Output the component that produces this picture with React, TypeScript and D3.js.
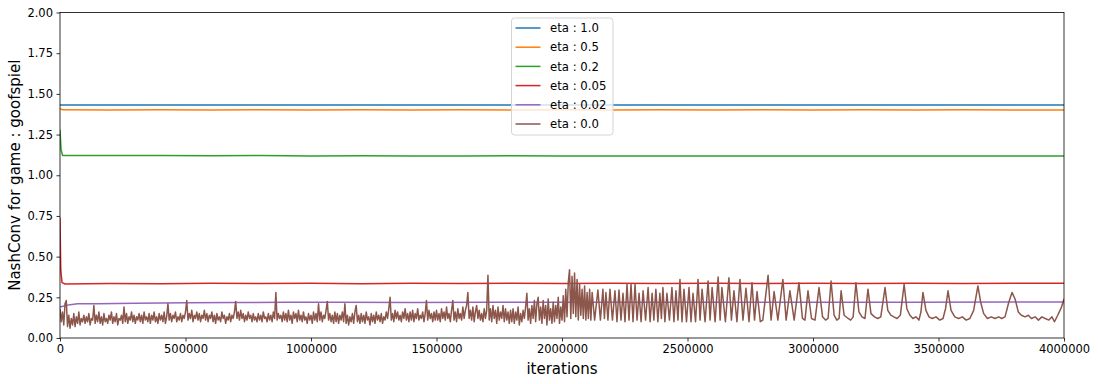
import React, { useEffect, useRef } from "react";
import * as d3 from "d3";

// legend labels / series names
const seriesNames = ["eta : 1.0", "eta : 0.5", "eta : 0.2", "eta : 0.05", "eta : 0.02", "eta : 0.0"];
const seriesColors = ["#1f77b4", "#ff7f0e", "#2ca02c", "#d62728", "#9467bd", "#8c564b"];

const xTicks = [0, 500000, 1000000, 1500000, 2000000, 2500000, 3000000, 3500000, 4000000];
const yTicks = [0, 0.25, 0.5, 0.75, 1.0, 1.25, 1.5, 1.75, 2.0];

// [iterations in thousands, NashConv]
const eta10: [number, number][] = [
  [0, 1.432], [500, 1.431], [1000, 1.431], [1500, 1.431], [2000, 1.431],
  [2500, 1.431], [3000, 1.431], [3500, 1.431], [4000, 1.431],
];

const eta05: [number, number][] = [
  [0, 1.41], [10, 1.402], [200, 1.401], [400, 1.402], [600, 1.401], [800, 1.402],
  [1000, 1.401], [1200, 1.402], [1400, 1.401], [1600, 1.402], [1800, 1.401],
  [2000, 1.402], [2200, 1.401], [2400, 1.402], [2600, 1.401], [2800, 1.402],
  [3000, 1.401], [3200, 1.402], [3400, 1.401], [3600, 1.402], [3800, 1.401], [4000, 1.401],
];

const eta02: [number, number][] = [
  [0, 1.28], [4, 1.16], [10, 1.122], [200, 1.121], [400, 1.122], [600, 1.120],
  [800, 1.121], [1000, 1.119], [1200, 1.120], [1400, 1.119], [1600, 1.119],
  [1800, 1.120], [2000, 1.119], [2400, 1.119], [2800, 1.118], [3200, 1.119],
  [3600, 1.118], [4000, 1.118],
];

const eta005: [number, number][] = [
  [0, 0.74], [3, 0.42], [8, 0.34], [20, 0.332], [200, 0.335], [400, 0.334],
  [600, 0.336], [800, 0.335], [1000, 0.336], [1200, 0.334], [1400, 0.336],
  [1600, 0.335], [1800, 0.336], [2000, 0.335], [2200, 0.336], [2400, 0.335],
  [2600, 0.336], [2800, 0.335], [3000, 0.336], [3200, 0.335], [3400, 0.336],
  [3600, 0.335], [3800, 0.336], [4000, 0.336],
];

const eta002: [number, number][] = [
  [0, 0.19], [20, 0.198], [40, 0.205], [70, 0.21], [150, 0.211], [300, 0.213],
  [500, 0.216], [700, 0.218], [900, 0.219], [1100, 0.219], [1400, 0.218],
  [1700, 0.219], [2000, 0.219], [2300, 0.219], [2600, 0.22], [3000, 0.22],
  [3400, 0.22], [3800, 0.221], [4000, 0.221],
];

// eta 0.0, noisy part sampled every 5k iterations from 0 to 2120k
const eta00Noisy = [
  0.18, 0.10, 0.16, 0.08, 0.21, 0.23, 0.07, 0.14, 0.06, 0.12, 0.08, 0.15, 0.07, 0.13, 0.09, 0.16, 0.08, 0.12, 0.10, 0.14,
  0.09, 0.13, 0.10, 0.15, 0.08, 0.12, 0.11, 0.20, 0.09, 0.14, 0.10, 0.16, 0.09, 0.13, 0.08, 0.15, 0.10, 0.12, 0.09, 0.14,
  0.11, 0.16, 0.09, 0.13, 0.10, 0.15, 0.08, 0.12, 0.11, 0.14, 0.09, 0.19, 0.10, 0.15, 0.09, 0.13, 0.11, 0.16, 0.10, 0.14,
  0.09, 0.13, 0.11, 0.15, 0.10, 0.14, 0.09, 0.16, 0.11, 0.13, 0.10, 0.15, 0.09, 0.14, 0.11, 0.16, 0.10, 0.13, 0.09, 0.15,
  0.11, 0.14, 0.10, 0.16, 0.09, 0.13, 0.21, 0.11, 0.15, 0.10, 0.14, 0.12, 0.16, 0.10, 0.13, 0.11, 0.15, 0.10, 0.14, 0.12,
  0.16, 0.23, 0.11, 0.15, 0.12, 0.17, 0.10, 0.14, 0.12, 0.16, 0.11, 0.15, 0.10, 0.14, 0.12, 0.17, 0.11, 0.15, 0.10, 0.14,
  0.12, 0.16, 0.10, 0.14, 0.09, 0.15, 0.11, 0.13, 0.10, 0.16, 0.12, 0.14, 0.09, 0.13, 0.11, 0.15, 0.10, 0.14, 0.12, 0.16,
  0.225, 0.12, 0.16, 0.11, 0.17, 0.12, 0.15, 0.10, 0.14, 0.11, 0.16, 0.12, 0.14, 0.10, 0.15, 0.11, 0.13, 0.10, 0.15, 0.11,
  0.14, 0.10, 0.16, 0.12, 0.13, 0.10, 0.15, 0.11, 0.14, 0.10, 0.16, 0.12, 0.28, 0.11, 0.15, 0.12, 0.14, 0.10, 0.16, 0.11,
  0.15, 0.10, 0.17, 0.11, 0.14, 0.09, 0.16, 0.12, 0.15, 0.10, 0.17, 0.11, 0.14, 0.10, 0.16, 0.11, 0.13, 0.09, 0.15, 0.11,
  0.14, 0.09, 0.16, 0.11, 0.15, 0.10, 0.21, 0.11, 0.16, 0.10, 0.14, 0.12, 0.17, 0.225, 0.11, 0.15, 0.10, 0.14, 0.09, 0.16,
  0.10, 0.15, 0.09, 0.14, 0.11, 0.16, 0.10, 0.21, 0.09, 0.14, 0.08, 0.13, 0.10, 0.15, 0.09, 0.16, 0.20, 0.10, 0.14, 0.09,
  0.15, 0.10, 0.14, 0.09, 0.16, 0.11, 0.13, 0.08, 0.15, 0.10, 0.14, 0.09, 0.16, 0.11, 0.14, 0.10, 0.15, 0.09, 0.13, 0.11,
  0.16, 0.12, 0.18, 0.25, 0.11, 0.15, 0.10, 0.17, 0.12, 0.16, 0.11, 0.14, 0.10, 0.16, 0.12, 0.18, 0.11, 0.15, 0.10, 0.16,
  0.11, 0.17, 0.10, 0.15, 0.12, 0.18, 0.11, 0.14, 0.12, 0.16, 0.10, 0.15, 0.23, 0.11, 0.17, 0.12, 0.15, 0.10, 0.16, 0.11,
  0.17, 0.11, 0.15, 0.10, 0.18, 0.12, 0.16, 0.11, 0.19, 0.12, 0.15, 0.10, 0.17, 0.23, 0.11, 0.16, 0.10, 0.18, 0.12, 0.15,
  0.11, 0.19, 0.12, 0.17, 0.20, 0.28, 0.12, 0.17, 0.11, 0.19, 0.10, 0.16, 0.20, 0.12, 0.17, 0.11, 0.15, 0.10, 0.18, 0.12,
  0.17, 0.385, 0.11, 0.18, 0.10, 0.20, 0.12, 0.17, 0.09, 0.19, 0.11, 0.16, 0.12, 0.20, 0.10, 0.18, 0.11, 0.16, 0.09, 0.17,
  0.10, 0.18, 0.09, 0.16, 0.11, 0.19, 0.08, 0.15, 0.10, 0.17, 0.12, 0.19, 0.275, 0.11, 0.18, 0.09, 0.20, 0.12, 0.23, 0.10,
  0.21, 0.25, 0.11, 0.19, 0.09, 0.23, 0.12, 0.20, 0.08, 0.24, 0.11, 0.18, 0.09, 0.22, 0.10, 0.20, 0.12, 0.25, 0.09, 0.19,
  0.11, 0.26, 0.10, 0.30, 0.13, 0.34, 0.42, 0.12, 0.38, 0.15, 0.40, 0.13, 0.36, 0.11, 0.33, 0.14, 0.30, 0.12, 0.32, 0.11,
  0.28, 0.12, 0.30, 0.11, 0.28,
];

// eta 0.0, periodic part [iterations in thousands, NashConv]
const eta00Peaks: [number, number][] = [
  [2130, 0.11], [2143, 0.295], [2153, 0.11], [2163, 0.30], [2169, 0.12], [2175, 0.28],
  [2183, 0.11], [2191, 0.30], [2201, 0.11], [2211, 0.29], [2219, 0.10], [2227, 0.295],
  [2235, 0.11], [2243, 0.275], [2251, 0.10], [2259, 0.33], [2267, 0.11], [2275, 0.33],
  [2283, 0.10], [2291, 0.33], [2299, 0.11], [2307, 0.275], [2315, 0.10], [2323, 0.29],
  [2333, 0.11], [2343, 0.31], [2351, 0.10], [2359, 0.275], [2366, 0.11], [2374, 0.30],
  [2382, 0.10], [2390, 0.275], [2396, 0.12], [2402, 0.31], [2410, 0.10], [2418, 0.275],
  [2428, 0.11], [2438, 0.31], [2446, 0.10], [2454, 0.29], [2462, 0.11], [2470, 0.36],
  [2478, 0.10], [2486, 0.30], [2496, 0.10], [2506, 0.31], [2514, 0.10], [2522, 0.275],
  [2532, 0.10], [2542, 0.36], [2550, 0.11], [2558, 0.30], [2570, 0.10], [2582, 0.35],
  [2590, 0.11], [2598, 0.31], [2610, 0.10], [2622, 0.375], [2630, 0.11], [2637, 0.31],
  [2651, 0.10], [2665, 0.37], [2675, 0.11], [2685, 0.29], [2697, 0.10], [2709, 0.36],
  [2721, 0.11], [2733, 0.305], [2745, 0.10], [2757, 0.34], [2767, 0.11], [2777, 0.285],
  [2790, 0.10], [2800, 0.11], [2821, 0.385], [2833, 0.11], [2845, 0.285], [2860, 0.11],
  [2880, 0.36], [2893, 0.11], [2908, 0.29], [2925, 0.11], [2944, 0.34], [2958, 0.12],
  [2968, 0.11], [2980, 0.29], [2994, 0.12], [3008, 0.11], [3024, 0.31], [3038, 0.13],
  [3050, 0.11], [3060, 0.12], [3072, 0.35], [3084, 0.14], [3095, 0.11], [3104, 0.12],
  [3112, 0.29], [3124, 0.14], [3140, 0.12], [3150, 0.11], [3160, 0.13], [3171, 0.34],
  [3183, 0.16], [3195, 0.13], [3207, 0.12], [3219, 0.30], [3231, 0.15], [3245, 0.13],
  [3258, 0.12], [3270, 0.13], [3287, 0.31], [3298, 0.17], [3310, 0.14], [3322, 0.13],
  [3335, 0.12], [3348, 0.14], [3363, 0.33], [3374, 0.18], [3386, 0.14], [3398, 0.12],
  [3410, 0.13], [3422, 0.11], [3430, 0.16], [3438, 0.28], [3450, 0.17], [3462, 0.13],
  [3475, 0.12], [3490, 0.13], [3505, 0.11], [3518, 0.12], [3528, 0.18], [3538, 0.29],
  [3550, 0.17], [3565, 0.13], [3580, 0.12], [3595, 0.13], [3610, 0.11], [3625, 0.12],
  [3640, 0.17], [3657, 0.32], [3668, 0.22], [3680, 0.15], [3695, 0.12], [3710, 0.13],
  [3725, 0.12], [3740, 0.13], [3752, 0.12], [3765, 0.13], [3780, 0.22], [3793, 0.28],
  [3805, 0.24], [3818, 0.16], [3830, 0.14], [3845, 0.13], [3858, 0.14], [3870, 0.12],
  [3885, 0.13], [3898, 0.11], [3912, 0.13], [3925, 0.12], [3940, 0.11], [3952, 0.13],
  [3962, 0.10], [3975, 0.14], [3990, 0.19], [4000, 0.24],
];

const NOISY_STEP_K = 5;

const App = () => {
  const svgRef = useRef<SVGSVGElement>(null);

  useEffect(() => {
    const svg = d3.select(svgRef.current);
    svg.selectAll("*").remove();

    const width = 1098;
    const height = 384;
    const margin = { top: 12.5, right: 34, bottom: 46, left: 60 };
    const font = "'DejaVu Sans', sans-serif";

    const x = d3.scaleLinear().domain([0, 4000000]).range([margin.left, width - margin.right]);
    const y = d3.scaleLinear().domain([0, 2]).range([height - margin.bottom, margin.top]);

    const eta00: [number, number][] = eta00Noisy
      .map((v, i) => [i * NOISY_STEP_K, v] as [number, number])
      .concat(eta00Peaks);

    const allSeries = [eta10, eta05, eta02, eta005, eta002, eta00];

    svg.append("defs")
      .append("clipPath")
      .attr("id", "plot-clip")
      .append("rect")
      .attr("x", margin.left)
      .attr("y", margin.top)
      .attr("width", width - margin.left - margin.right)
      .attr("height", height - margin.top - margin.bottom);

    const line = d3.line<[number, number]>()
      .x((d) => x(d[0] * 1000))
      .y((d) => y(d[1]));

    const lines = svg.append("g").attr("clip-path", "url(#plot-clip)");
    allSeries.forEach((s, i) => {
      lines.append("path")
        .attr("d", line(s))
        .attr("fill", "none")
        .attr("stroke", seriesColors[i])
        .attr("stroke-width", 1.5)
        .attr("stroke-linejoin", "round");
    });

    // x axis
    const xAxis = svg.append("g")
      .attr("transform", `translate(0,${height - margin.bottom})`)
      .call(d3.axisBottom(x).tickValues(xTicks).tickFormat((d) => String(d)).tickSize(3.5).tickPadding(3.5).tickSizeOuter(0));
    xAxis.select(".domain").remove();
    xAxis.selectAll("text").attr("font-family", font).attr("font-size", 11.5).attr("fill", "#000");
    xAxis.selectAll("line").attr("stroke", "#000").attr("stroke-width", 0.8);

    // y axis
    const yAxis = svg.append("g")
      .attr("transform", `translate(${margin.left},0)`)
      .call(d3.axisLeft(y).tickValues(yTicks).tickFormat(d3.format(".2f")).tickSize(3.5).tickPadding(3.5).tickSizeOuter(0));
    yAxis.select(".domain").remove();
    yAxis.selectAll("text").attr("font-family", font).attr("font-size", 11.5).attr("fill", "#000");
    yAxis.selectAll("line").attr("stroke", "#000").attr("stroke-width", 0.8);

    // frame
    svg.append("rect")
      .attr("x", margin.left)
      .attr("y", margin.top)
      .attr("width", width - margin.left - margin.right)
      .attr("height", height - margin.top - margin.bottom)
      .attr("fill", "none")
      .attr("stroke", "#000")
      .attr("stroke-width", 0.8);

    // axis labels
    svg.append("text")
      .attr("text-anchor", "middle")
      .attr("x", (margin.left + width - margin.right) / 2)
      .attr("y", 374)
      .attr("font-family", font)
      .attr("font-size", 15)
      .text("iterations");

    svg.append("text")
      .attr("text-anchor", "middle")
      .attr("transform", `translate(19.5,${(margin.top + height - margin.bottom) / 2}) rotate(-90)`)
      .attr("font-family", font)
      .attr("font-size", 15)
      .text("NashConv for game : goofspiel");

    // legend
    const legend = svg.append("g").attr("transform", "translate(511.5,18)");
    legend.append("rect")
      .attr("width", 101.5)
      .attr("height", 117)
      .attr("rx", 3)
      .attr("fill", "#fff")
      .attr("fill-opacity", 0.8)
      .attr("stroke", "#d5d5d5")
      .attr("stroke-width", 1);

    const items = legend.selectAll(".item")
      .data(seriesNames)
      .enter()
      .append("g")
      .attr("transform", (d, i) => `translate(0,${10 + i * 19.2})`);

    items.append("line")
      .attr("x1", 4)
      .attr("x2", 29)
      .attr("stroke", (d, i) => seriesColors[i])
      .attr("stroke-width", 1.5);

    items.append("text")
      .attr("x", 38.5)
      .attr("dy", "0.36em")
      .attr("font-family", font)
      .attr("font-size", 11.7)
      .text((d) => d);
  }, []);

  return (
    <div>
      <svg ref={svgRef} width={1098} height={384} style={{ position: "absolute", left: 0, top: 0 }}></svg>
    </div>
  );
};

export default App;
